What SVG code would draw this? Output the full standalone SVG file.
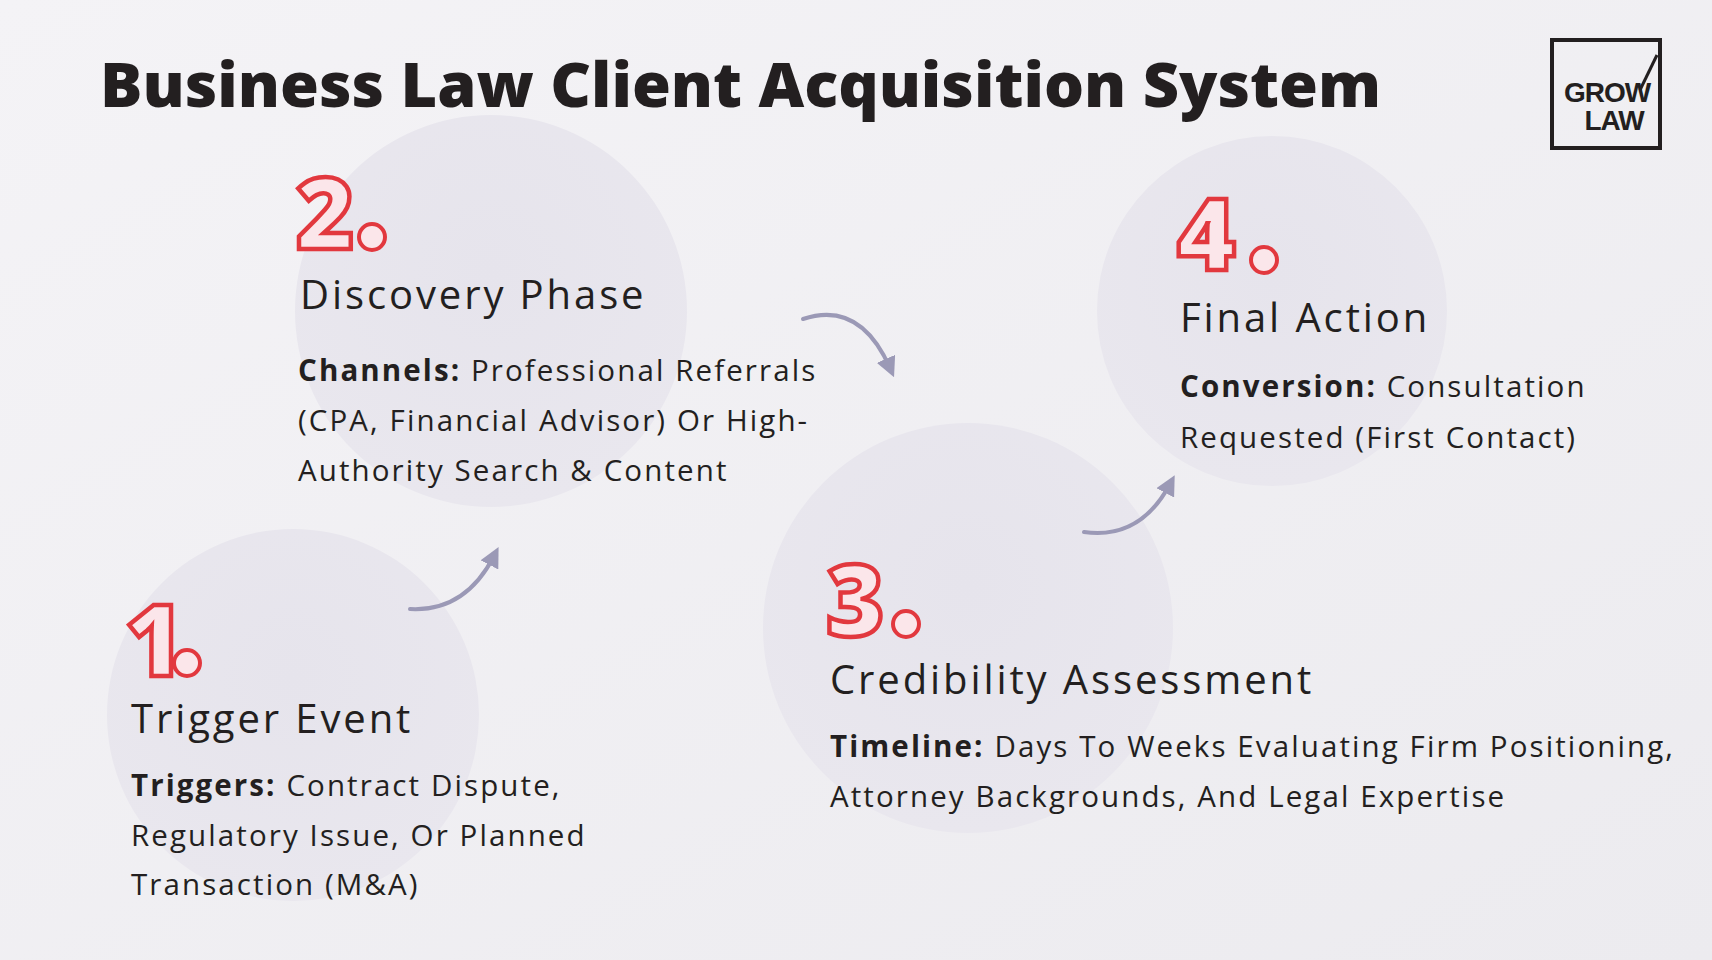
<svg xmlns="http://www.w3.org/2000/svg" width="1712" height="960" viewBox="0 0 1712 960">
<defs>
<linearGradient id="bg" x1="0" y1="0" x2="1" y2="1"><stop offset="0" stop-color="#f4f3f6"/><stop offset="1" stop-color="#ecebef"/></linearGradient>
<radialGradient id="cg" cx="0.5" cy="0.4" r="0.6"><stop offset="0" stop-color="#e6e4ec"/><stop offset="1" stop-color="#e9e7ee"/></radialGradient>
<marker id="ah" viewBox="0 0 10 10" refX="5" refY="5" markerWidth="5" markerHeight="5" orient="auto"><path d="M0,0 L10,5 L0,10 z" fill="#9b99b6"/></marker>
<style>
.t{font-family:"Open Sans","Noto Sans",sans-serif;fill:#231f20}
.h{font-size:40px;letter-spacing:2.9px}
.b{font-size:29.5px;letter-spacing:2.1px}
.bb{font-weight:700}
.n{font-family:"Open Sans",sans-serif;font-weight:800;font-size:100px;fill:#fbe6ea;stroke:#e2383e;stroke-width:4.5}
.d{fill:#fbe6ea;stroke:#e2383e;stroke-width:4}
.c{fill:url(#cg)}
.a{fill:none;stroke:#9b99b6;stroke-width:4;stroke-linecap:round}
</style>
</defs>
<rect width="1712" height="960" fill="url(#bg)"/>
<text x="100" y="107" class="t" font-weight="800" font-size="62" textLength="1281" lengthAdjust="spacingAndGlyphs">Business Law Client Acquisition System</text>
<g id="logo"><rect x="1552" y="40" width="108" height="108" fill="none" stroke="#231f20" stroke-width="4"/><path d="M1657,55 L1640,90" stroke="#231f20" stroke-width="3"/><text x="1607" y="102" text-anchor="middle" font-family="Liberation Sans,Arial,sans-serif" font-weight="700" font-size="28" fill="#231f20" letter-spacing="-1">GROW</text><text x="1614" y="130" text-anchor="middle" font-family="Liberation Sans,Arial,sans-serif" font-weight="700" font-size="28" fill="#231f20" letter-spacing="-1">LAW</text></g>
<g id="node2"><circle class="c" cx="491" cy="311" r="196"/><text class="n" x="296" y="249">2</text><circle class="d" cx="372" cy="237" r="13"/>
<text class="t h" x="300" y="309">Discovery Phase</text>
<text class="t b" x="298" y="381"><tspan class="bb">Channels:</tspan> Professional Referrals</text>
<text class="t b" x="298" y="431">(CPA, Financial Advisor) Or High-</text>
<text class="t b" x="298" y="481">Authority Search &amp; Content</text></g>
<g id="node4"><circle class="c" cx="1272" cy="311" r="175"/><text class="n" x="1177" y="270">4</text><circle class="d" cx="1264" cy="260" r="13"/>
<text class="t h" x="1180" y="332">Final Action</text>
<text class="t b" x="1180" y="397"><tspan class="bb">Conversion:</tspan> Consultation</text>
<text class="t b" x="1180" y="448">Requested (First Contact)</text></g>
<g id="node3"><circle class="c" cx="968" cy="628" r="205"/><text class="n" x="826" y="636">3</text><circle class="d" cx="906" cy="624" r="13"/>
<text class="t h" x="830" y="694">Credibility Assessment</text>
<text class="t b" x="830" y="757"><tspan class="bb">Timeline:</tspan> Days To Weeks Evaluating Firm Positioning,</text>
<text class="t b" x="830" y="807">Attorney Backgrounds, And Legal Expertise</text></g>
<g id="node1"><circle class="c" cx="293" cy="715" r="186"/><text class="n" x="125" y="676">1</text><circle class="d" cx="187" cy="663" r="13"/>
<text class="t h" x="131" y="733">Trigger Event</text>
<text class="t b" x="131" y="796"><tspan class="bb">Triggers:</tspan> Contract Dispute,</text>
<text class="t b" x="131" y="846">Regulatory Issue, Or Planned</text>
<text class="t b" x="131" y="895">Transaction (M&amp;A)</text></g>
<g id="connectors">
<path class="a" marker-end="url(#ah)" d="M410,609 Q465,612 494,556"/>
<path class="a" marker-end="url(#ah)" d="M803,319 Q860,300 890,368"/>
<path class="a" marker-end="url(#ah)" d="M1084,532 Q1140,540 1170,484"/>
</g>
</svg>
